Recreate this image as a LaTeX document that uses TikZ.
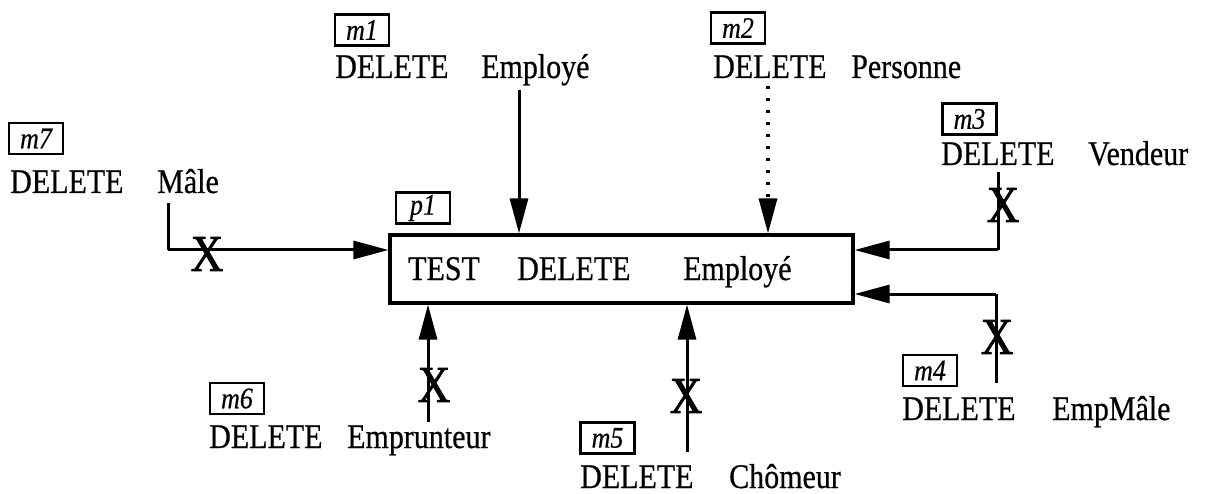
\documentclass[tikz,border=0pt]{standalone}
\usepackage{graphicx}
\usepackage{fontspec}
\setmainfont{Liberation Serif}[FakeBold=0.6]
\newfontfamily\scanfont{Liberation Serif}[FakeBold=0.6]
\newfontfamily\scanital{Liberation Serif Italic}[FakeBold=0.5]
\newfontfamily\scanx{Liberation Serif}[FakeBold=1.6]
\newcommand{\tall}[1]{\scalebox{1}[1.15]{#1}}
\usetikzlibrary{arrows.meta}
\begin{document}
\begin{tikzpicture}[x=1pt,y=-1pt,
  txt/.style={inner sep=0pt,anchor=base west,font=\scanfont\fontsize{30}{30}\selectfont},
  lab/.style={draw,line width=2.8pt,inner sep=0pt,minimum width=54pt,minimum height=31pt,font=\scanital\fontsize{26}{26}\selectfont},
  mainbox/.style={draw,line width=3.2pt,inner sep=0pt,minimum width=463pt,minimum height=68pt},
  conn/.style={line width=3pt,-{Triangle[length=35pt,width=18pt]}},
  plain/.style={line width=3pt},
  dotline/.style={line width=3.4pt,dash pattern=on 3.4pt off 8.6pt,-{Triangle[length=35pt,width=18pt]}},
  xmark/.style={inner sep=0pt,font=\scanx\fontsize{45}{45}\selectfont}]
\useasboundingbox (0,0) rectangle (1209,494);
% main box
\node[mainbox] (p1) at (621.5,269) {};
\node[lab] (p1lab) at (423,208) {\tall{p1}};
\node[txt] (t1) at (408,280) {\tall{TEST}};
\node[txt] (t2) at (517,280) {\tall{DELETE}};
\node[txt] (t3) at (683,280) {\tall{Employé}};
% m1
\node[lab] (m1lab) at (362,30) {\tall{m1}};
\node[txt] (m1a) at (335,78) {\tall{DELETE}};
\node[txt] (m1b) at (481,78) {\tall{Employé}};
\coordinate (m1s) at (519,90);
\draw[conn] (m1s) -- (m1s |- p1.north);
% m2
\node[lab] (m2lab) at (738,28) {\tall{m2}};
\node[txt] (m2a) at (713,78) {\tall{DELETE}};
\node[txt] (m2b) at (851,78) {\tall{Personne}};
\coordinate (m2s) at (768,86);
\draw[dotline] (m2s) -- (m2s |- p1.north);
% m3
\node[lab] (m3lab) at (969.5,119) {\tall{m3}};
\node[txt] (m3a) at (941,165) {\tall{DELETE}};
\node[txt] (m3b) at (1088,165) {\tall{Vendeur}};
\coordinate (m3s) at (998,172);
\coordinate (m3c) at (998,250);
\draw[plain] (m3s) -- (m3c);
\draw[conn] (m3c) -- (m3c -| p1.east);
\node[xmark] (x3) at (1003,205) {\tall{X}};
% m4
\node[lab] (m4lab) at (930,370.5) {\tall{m4}};
\node[txt] (m4a) at (902,420) {\tall{DELETE}};
\node[txt] (m4b) at (1052,420) {\tall{EmpMâle}};
\coordinate (m4s) at (996,383);
\coordinate (m4c) at (996,294);
\draw[plain] (m4s) -- (m4c);
\draw[conn] (m4c) -- (m4c -| p1.east);
\node[xmark] (x4) at (997,337) {\tall{X}};
% m5
\node[lab] (m5lab) at (607.5,438) {\tall{m5}};
\node[txt] (m5a) at (580,488) {\tall{DELETE}};
\node[txt] (m5b) at (729,488) {\tall{Chômeur}};
\coordinate (m5s) at (687,452);
\draw[conn] (m5s) -- (m5s |- p1.south);
\node[xmark] (x5) at (686,396) {\tall{X}};
% m6
\node[lab] (m6lab) at (237,398.5) {\tall{m6}};
\node[txt] (m6a) at (209,448) {\tall{DELETE}};
\node[txt] (m6b) at (347,448) {\tall{Emprunteur}};
\coordinate (m6s) at (428,422);
\draw[conn] (m6s) -- (m6s |- p1.south);
\node[xmark] (x6) at (434,385) {\tall{X}};
% m7
\node[lab] (m7lab) at (36,138.5) {\tall{m7}};
\node[txt] (m7a) at (10,193) {\tall{DELETE}};
\node[txt] (m7b) at (157,193) {\tall{Mâle}};
\coordinate (m7s) at (168,203);
\coordinate (m7c) at (168,250);
\draw[plain] (m7s) -- (m7c);
\draw[conn] (m7c) -- (m7c -| p1.west);
\node[xmark] (x7) at (207,254) {\tall{X}};
\end{tikzpicture}
\end{document}
